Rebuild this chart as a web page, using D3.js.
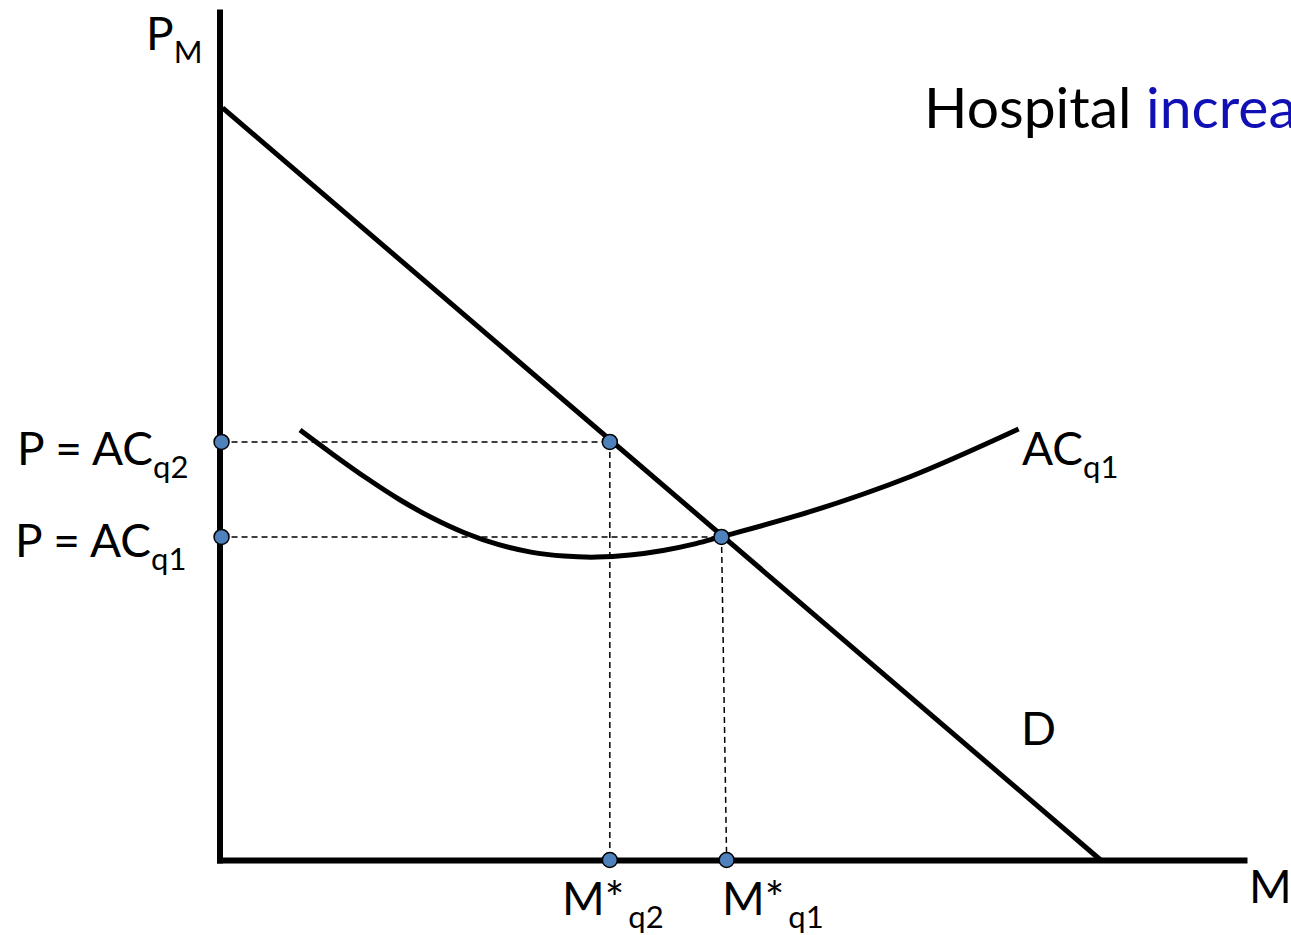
<!DOCTYPE html>
<html>
<head>
<meta charset="utf-8">
<script src="https://cdn.jsdelivr.net/npm/d3@7"></script>
<style>
  html, body { margin: 0; padding: 0; background: #fff; overflow: hidden; }
  svg { display: block; }
  text { font-family: Lato, "Open Sans", sans-serif; fill: #000; }
</style>
</head>
<body>
<svg id="chart" width="1291" height="935"></svg>
<script>
// ---- data (abstract units: quantity M 0..100, price P 0..100) ----
const demandM = [0.3, 86.0];
const demandP = [88.7, 0];

const acM = [7.86, 11.08, 14.30, 17.52, 20.74, 23.96, 27.18, 30.40, 33.63, 36.85, 40.07, 43.29, 46.51, 48.85, 57.64, 67.40, 78.00];
const acP = [50.71, 47.83, 45.07, 42.54, 40.35, 38.56, 37.21, 36.31, 35.84, 35.72, 35.96, 36.50, 37.31, 38.08, 41.07, 45.20, 50.83];

// equilibrium points (on demand curve)
const eqNames = ["q2", "q1"];
const eqM = [38.1, 49.0];
const eqP = [49.3, 38.1];
// where the dotted drop-lines meet the quantity axis
const axisM = [38.1, 49.5];
const axisPriceM = 0.2;

const priceLabels = ["P = AC", "P = AC"];
const priceSubs = ["q2", "q1"];
const qtyLabels = ["M*", "M*"];
const qtySubs = ["q2", "q1"];

const titleBlack = "Hospital ";
const titleBlue = "increases quality";

// ---- scales ----
const svg = d3.select("#chart");
const x = d3.scaleLinear().domain([0, 100]).range([219.5, 1244]);
const y = d3.scaleLinear().domain([0, 100]).range([860, 12]);

// ---- axes (domain lines only) ----
const gx = svg.append("g").attr("transform", `translate(0,${y(0)})`)
  .call(d3.axisBottom(x).tickValues([]).tickSizeOuter(0));
const gy = svg.append("g").attr("transform", `translate(${x(0)},0)`)
  .call(d3.axisLeft(y).tickValues([]).tickSizeOuter(0));
[gx, gy].forEach(g => g.select(".domain")
  .attr("stroke", "#000").attr("stroke-width", 6).attr("stroke-linecap", "square"));

// ---- dashed guide lines ----
const dash = svg.append("g").attr("stroke", "#000").attr("stroke-width", 1.5)
  .attr("stroke-dasharray", "6,4").attr("fill", "none");
eqM.forEach((m, i) => {
  dash.append("line").attr("x1", x(axisPriceM)).attr("y1", y(eqP[i]))
    .attr("x2", x(m)).attr("y2", y(eqP[i]));
  dash.append("line").attr("x1", x(m)).attr("y1", y(eqP[i]))
    .attr("x2", x(axisM[i])).attr("y2", y(0));
});

// ---- curves ----
const line = d3.line().x(d => x(d[0])).y(d => y(d[1]));
svg.append("path")
  .datum(demandM.map((m, i) => [m, demandP[i]]))
  .attr("d", line).attr("fill", "none").attr("stroke", "#000").attr("stroke-width", 5);

svg.append("path")
  .datum(acM.map((m, i) => [m, acP[i]]))
  .attr("d", d3.line().x(d => x(d[0])).y(d => y(d[1])).curve(d3.curveCatmullRom.alpha(0.5)))
  .attr("fill", "none").attr("stroke", "#000").attr("stroke-width", 5);

// ---- dots ----
const dotPts = [];
eqM.forEach((m, i) => {
  dotPts.push([axisPriceM, eqP[i]]);
  dotPts.push([m, eqP[i]]);
  dotPts.push([axisM[i], 0]);
});
svg.append("g").selectAll("circle").data(dotPts).join("circle")
  .attr("cx", d => x(d[0])).attr("cy", d => y(d[1])).attr("r", 7.5)
  .attr("fill", "#4F81BD").attr("stroke", "#000").attr("stroke-width", 1.5);

// ---- labels ----
const MAIN = 46, SUB = 31;
function subLabel(px, py, main, sub, shift) {
  const t = svg.append("text").attr("x", px).attr("y", py).style("font-size", MAIN + "px");
  t.append("tspan").text(main);
  t.append("tspan").attr("dy", shift).style("font-size", SUB + "px").text(sub);
  return t;
}
// axis titles
subLabel(146, 50, "P", "M", 13);
svg.append("text").attr("x", 1249).attr("y", 903).style("font-size", MAIN + "px").text("M");

// price labels
subLabel(17, y(eqP[0]) + 23, priceLabels[0], priceSubs[0], 13);
subLabel(15, y(eqP[1]) + 20, priceLabels[1], priceSubs[1], 13);

// quantity labels
subLabel(562, 915, qtyLabels[0], qtySubs[0], 13).select("tspan:last-child").attr("dx", 4);
subLabel(722, 915, qtyLabels[1], qtySubs[1], 13).select("tspan:last-child").attr("dx", 4);

// curve labels
subLabel(1022, 465, "AC", "q1", 13);
svg.append("text").attr("x", 1021).attr("y", 745).style("font-size", MAIN + "px").text("D");

// title (runs off the right edge as in the original slide)
const title = svg.append("text").attr("x", 924).attr("y", 128).style("font-size", "57px");
title.append("tspan").text(titleBlack);
title.append("tspan").style("fill", "#1010B4").text(titleBlue);
</script>
</body>
</html>
